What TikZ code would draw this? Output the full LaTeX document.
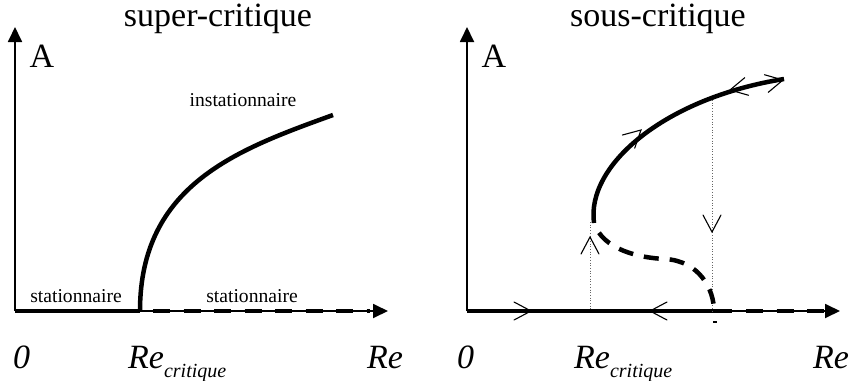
\documentclass[tikz,border=0pt]{standalone}
\usepackage{fontspec}
\setmainfont{Liberation Serif}
\usetikzlibrary{arrows.meta}
\begin{document}
\begin{tikzpicture}[x=1pt,y=-1pt,
  axis/.style={line width=1.8pt,-{Triangle[length=15pt,width=14pt]}},
  branch/.style={line width=4.5pt},
  unstable/.style={line width=4.5pt,dash pattern=on 17pt off 13.5pt},
  unstablecurve/.style={line width=4.5pt,dash pattern=on 15pt off 11pt,dash phase=15pt},
  guide/.style={line width=0.7pt,dotted,black!60},
  lbl/.style={inner sep=0pt,anchor=base,font=\fontsize{19.6}{20}\selectfont},
  big/.style={inner sep=0pt,anchor=base,font=\fontsize{34}{36}\selectfont},
  bigit/.style={inner sep=0pt,anchor=base west,font=\fontsize{34}{36}\selectfont\itshape},
  chev/.pic={\draw[line width=1.1pt,line cap=round] (-17,-9) -- (0,0) -- (-17,9);}
]
\useasboundingbox (0,0) rectangle (853,380);

% ---------- left plot: super-critique ----------
\coordinate (O1) at (15,311);
\coordinate (Y1) at (15,27);
\coordinate (X1) at (388,311);
\coordinate (C1) at (140,311);
\coordinate (D1a) at (153,311);
\coordinate (D1b) at (370,311);
\coordinate (E1) at (333,115);

\draw[axis] (O1) -- (Y1);
\draw[axis] (O1) -- (X1);
\draw[branch] (O1) -- (C1);
\draw[unstable] (D1a) -- (D1b);
\draw[branch] (C1) .. controls (140,184) and (239,149) .. (E1);

\node[big] (t1) at (218,27) {super-critique};
\node[big] (a1) at (42,67) {A};
\node[lbl] (ins) at (243,106) {instationnaire};
\node[lbl] (s1) at (76,302) {stationnaire};
\node[lbl] (s2) at (252,302) {stationnaire};
\node[bigit] (z1) at (13,368) {0};
\node[bigit] (rc1) at (128,368) {Re\raisebox{-9pt}{\fontsize{20}{20}\selectfont critique}};
\node[bigit] (re1) at (367,368) {Re};

% ---------- right plot: sous-critique ----------
\coordinate (O2) at (467,311);
\coordinate (Y2) at (467,27);
\coordinate (X2) at (840,311);
\coordinate (C2) at (732,311);
\coordinate (D2a) at (746,311);
\coordinate (D2b) at (826,311);
\coordinate (T) at (594,223);
\coordinate (E2) at (784,79);
\coordinate (M) at (665,259);
\coordinate (B2) at (714,311);

\draw[axis] (O2) -- (Y2);
\draw[axis] (O2) -- (X2);
\draw[branch] (O2) -- (C2);
\draw[unstable] (D2a) -- (D2b);

\draw[guide] (590,222) -- (590,311);
\draw[guide] (712,100) -- (712,311);

\draw[branch] (T) .. controls (586,165) and (665,98) .. (E2);
\draw[unstablecurve] (T) .. controls (603,250) and (640,258) .. (M)
  .. controls (700,261) and (714,290) .. (B2);

\draw[line width=1.5pt] (713,322) -- (717,322);

\pic[rotate=90] at (590,237) {chev};
\pic[rotate=-90] at (712,232) {chev};
\pic at (531,311) {chev};
\pic[rotate=180] at (650,311) {chev};
\pic[rotate=43] at (641,130) {chev};
\pic[rotate=192] at (730,90) {chev};
\pic[rotate=12] at (783,80) {chev};

\node[big] (t2) at (658,27) {sous-critique};
\node[big] (a2) at (494,67) {A};
\node[bigit] (z2) at (457,368) {0};
\node[bigit] (rc2) at (574,368) {Re\raisebox{-9pt}{\fontsize{20}{20}\selectfont critique}};
\node[bigit] (re2) at (813,368) {Re};
\end{tikzpicture}
\end{document}
